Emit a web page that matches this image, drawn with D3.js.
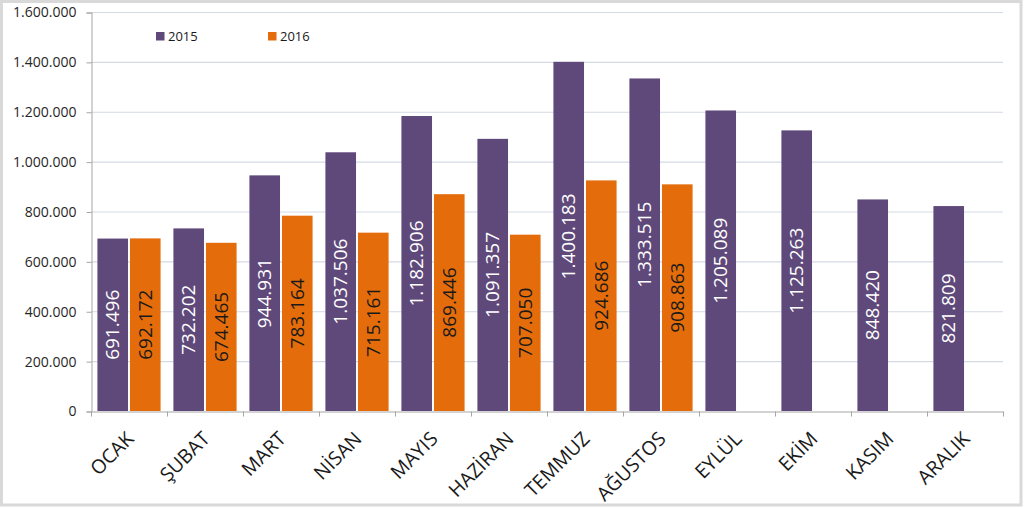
<!DOCTYPE html>
<html>
<head>
<meta charset="utf-8">
<script src="https://cdn.jsdelivr.net/npm/d3@7"></script>
<style>
  html, body { margin: 0; padding: 0; background: #fff; }
  svg { display: block; font-family: "Open Sans", "Noto Sans", sans-serif; }
</style>
</head>
<body>
<svg id="chart" width="1024" height="508"></svg>
<script>
const months = ["OCAK", "ŞUBAT", "MART", "NİSAN", "MAYIS", "HAZİRAN", "TEMMUZ", "AĞUSTOS", "EYLÜL", "EKİM", "KASIM", "ARALIK"];
const seriesNames = ["2015", "2016"];
const values2015 = [691496, 732202, 944931, 1037506, 1182906, 1091357, 1400183, 1333515, 1205089, 1125263, 848420, 821809];
const values2016 = [692172, 674465, 783164, 715161, 869446, 707050, 924686, 908863, null, null, null, null];
const yTicks = [0, 200000, 400000, 600000, 800000, 1000000, 1200000, 1400000, 1600000];

const colors = { "2015": "#5F497A", "2016": "#E46C0A" };
const labelColors = { "2015": "#ffffff", "2016": "#1a1a1a" };

const locale = d3.formatLocale({ decimal: ",", thousands: ".", grouping: [3], currency: ["", ""] });
const fmt = locale.format(",d");

const svg = d3.select("#chart");

// outer border
svg.append("rect")
  .attr("x", 1.5).attr("y", 1.5).attr("width", 1019.5).attr("height", 503.5)
  .attr("fill", "#fff").attr("stroke", "#d9d9d9").attr("stroke-width", 3);

const plotLeft = 91, plotRight = 1003, plotTop = 12, plotBottom = 411;

const x = d3.scaleBand().domain(months).range([plotLeft, plotRight]).padding(0);
const xs = d3.scaleBand().domain(seriesNames).range([0, x.bandwidth()]).paddingInner(0.06).paddingOuter(0.197);
const y = d3.scaleLinear().domain([0, 1600000]).range([plotBottom, plotTop]);

// gridlines
svg.append("g").selectAll("line").data(yTicks.filter(d => d > 0)).join("line")
  .attr("x1", plotLeft).attr("x2", plotRight)
  .attr("y1", d => y(d) + 0.5).attr("y2", d => y(d) + 0.5)
  .attr("stroke", "#d3dae4").attr("stroke-width", 1.2);

// y axis
const yAxis = d3.axisLeft(y).tickValues(yTicks).tickSize(5).tickPadding(10).tickFormat(d => fmt(d));
const gy = svg.append("g").attr("transform", `translate(${plotLeft + 0.5},0.5)`).call(yAxis);
gy.select(".domain").attr("stroke", "#a6a6a6");
gy.selectAll(".tick line").attr("stroke", "#a6a6a6");
gy.selectAll(".tick text").attr("font-size", 14).attr("fill", "#262626").attr("font-family", "Open Sans");

// bars
const data = [];
months.forEach((m, i) => {
  data.push({ month: m, series: "2015", value: values2015[i] });
  if (values2016[i] != null) data.push({ month: m, series: "2016", value: values2016[i] });
});

svg.append("g").selectAll("rect").data(data).join("rect")
  .attr("x", d => x(d.month) + xs(d.series))
  .attr("width", xs.bandwidth())
  .attr("y", d => y(d.value))
  .attr("height", d => y(0) - y(d.value))
  .attr("fill", d => colors[d.series]);

// value labels
svg.append("g").selectAll("text").data(data).join("text")
  .attr("transform", d => `translate(${x(d.month) + xs(d.series) + xs.bandwidth() / 2},${(y(d.value) + y(0)) / 2}) rotate(-90)`)
  .attr("text-anchor", "middle")
  .attr("dy", "0.35em")
  .attr("font-size", 19)
  .attr("fill", d => labelColors[d.series])
  .text(d => fmt(d.value));

// x axis
const xAxis = d3.axisBottom(x).tickSize(0).tickFormat("");
const gx = svg.append("g").attr("transform", `translate(0,${plotBottom + 0.5})`).call(xAxis);
gx.select(".domain").attr("stroke", "#a6a6a6");
const boundaries = months.map(m => x(m)).concat([plotRight]);
gx.selectAll(".bnd").data(boundaries).join("line").attr("class", "bnd")
  .attr("x1", d => d + 0.5).attr("x2", d => d + 0.5).attr("y1", 0).attr("y2", 5)
  .attr("stroke", "#a6a6a6");

svg.append("g").selectAll("text").data(months).join("text")
  .attr("transform", m => `translate(${x(m) + x.bandwidth() / 2 + 6},${plotBottom + 29}) rotate(-45)`)
  .attr("text-anchor", "end")
  .attr("font-size", 19.5)
  .attr("fill", "#1a1a1a")
  .text(m => m);

// legend
const legend = svg.append("g");
const legendX = [156, 268];
seriesNames.forEach((s, i) => {
  legend.append("rect").attr("x", legendX[i]).attr("y", 32).attr("width", 8.5).attr("height", 8.5).attr("fill", colors[s]);
  legend.append("text").attr("x", legendX[i] + 12).attr("y", 41).attr("font-size", 13).attr("fill", "#1a1a1a").text(s);
});
</script>
</body>
</html>
